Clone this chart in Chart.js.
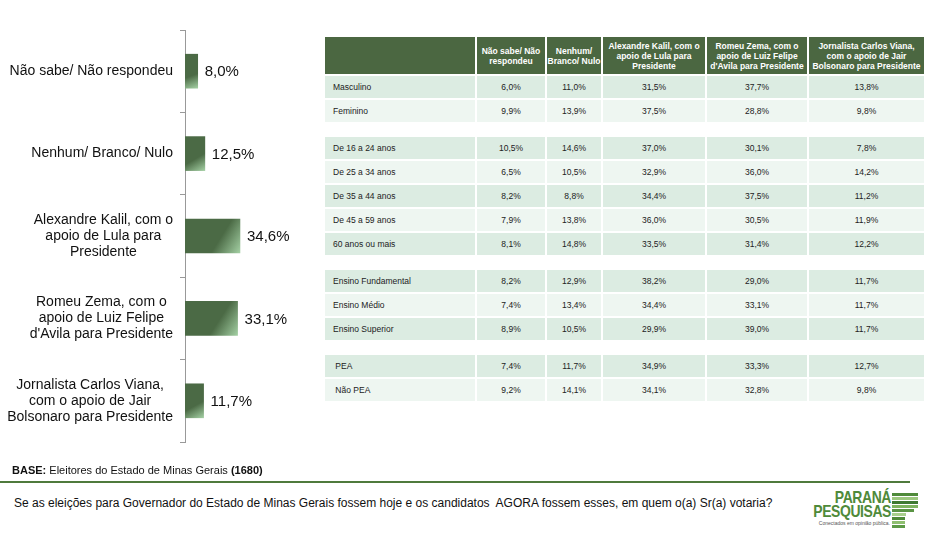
<!DOCTYPE html>
<html>
<head>
<meta charset="utf-8">
<script src="https://cdn.jsdelivr.net/npm/chart.js@4"></script>
<style>
  body { margin:0; width:952px; height:536px; background:#fff; font-family:"Liberation Sans", Arial, sans-serif; position:relative; overflow:hidden; }
  #chartBox { position:absolute; left:0; top:0; width:320px; height:470px; }
  table { position:absolute; left:323px; top:35px; width:603px; table-layout:fixed; border-collapse:separate; border-spacing:2px; font-size:8.5px; color:#222; }
  th, td { box-sizing:border-box; }
  th { background:#4b6741; color:#fff; font-weight:bold; height:37px; padding:0; line-height:10px; white-space:nowrap; overflow:hidden; }
  td { height:22px; padding:0; text-align:center; }
  td.lbl { text-align:left; padding-left:8px; }
  tr.dark td { background:#dcece2; }
  tr.light td { background:#eef6f1; }
  tr.gap td { height:11px; background:#fff; }
  #base { position:absolute; left:12px; top:464px; font-size:11px; color:#111; }
  #rule { position:absolute; left:0; top:481px; width:910px; height:2px; background:#4f7a3c; }
  #question { position:absolute; left:14px; top:496px; font-size:12px; color:#111; }
  .logo { position:absolute; font:bold 17px "Liberation Sans Narrow", "Liberation Sans", sans-serif; color:#4f8a3a; letter-spacing:-0.5px; transform:scaleX(0.82); transform-origin:right; text-align:right; line-height:15px; }
  #logo1 { left:791px; top:490px; width:100px; }
  #logo2 { left:771px; top:504px; width:120px; }
  #logo3 { position:absolute; left:800px; top:520px; font-size:5px; color:#555; width:90px; text-align:right; }
  .stripe { position:absolute; left:892px; height:3px; }
</style>
</head>
<body>
<div id="chartBox"><canvas id="barChart"></canvas></div>
<table id="tbl"></table>
<div id="base"><b>BASE:</b> Eleitores do Estado de Minas Gerais <b>(1680)</b></div>
<div id="rule"></div>
<div id="question">Se as eleições para Governador do Estado de Minas Gerais fossem hoje e os candidatos&nbsp; AGORA fossem esses, em quem o(a) Sr(a) votaria?</div>
<div id="logo1" class="logo">PARANÁ</div>
<div id="logo2" class="logo">PESQUISAS</div>
<div id="logo3">Conectados em opinião pública.</div>
<div id="stripes"></div>
<script>
const candidates = [
  ['Não sabe/ Não respondeu'],
  ['Nenhum/ Branco/ Nulo'],
  ['Alexandre Kalil, com o', 'apoio de Lula para', 'Presidente'],
  ['Romeu Zema, com o', 'apoio de Luiz Felipe', "d'Avila para Presidente"],
  ['Jornalista Carlos Viana,', 'com o apoio de Jair', 'Bolsonaro para Presidente']
];
const totals = [8.0, 12.5, 34.6, 33.1, 11.7];

const tableHeaders = [
  [''],
  ['Não sabe/ Não', 'respondeu'],
  ['Nenhum/', 'Branco/ Nulo'],
  ['Alexandre Kalil, com o', 'apoio de Lula para', 'Presidente'],
  ['Romeu Zema, com o', 'apoio de Luiz Felipe', "d'Avila para Presidente"],
  ['Jornalista Carlos Viana,', 'com o apoio de Jair', 'Bolsonaro para Presidente']
];
const groups = [
  ['Masculino', 'Feminino'],
  ['De 16 a 24 anos', 'De 25 a 34 anos', 'De 35 a 44 anos', 'De 45 a 59 anos', '60 anos ou mais'],
  ['Ensino Fundamental', 'Ensino Médio', 'Ensino Superior'],
  [' PEA', ' Não PEA']
];
const rowValues = [
  [[6.0, 11.0, 31.5, 37.7, 13.8], [9.9, 13.9, 37.5, 28.8, 9.8]],
  [[10.5, 14.6, 37.0, 30.1, 7.8], [6.5, 10.5, 32.9, 36.0, 14.2], [8.2, 8.8, 34.4, 37.5, 11.2],
   [7.9, 13.8, 36.0, 30.5, 11.9], [8.1, 14.8, 33.5, 31.4, 12.2]],
  [[8.2, 12.9, 38.2, 29.0, 11.7], [7.4, 13.4, 34.4, 33.1, 11.7], [8.9, 10.5, 29.9, 39.0, 11.7]],
  [[7.4, 11.7, 34.9, 33.3, 12.7], [9.2, 14.1, 34.1, 32.8, 9.8]]
];
const colWidths = [150, 68, 54, 102, 100, 115];

const pct = v => v.toFixed(1).replace('.', ',') + '%';

// table
const tbl = document.getElementById('tbl');
let html = '<tr>' + tableHeaders.map((h, i) => '<th style="width:' + colWidths[i] + 'px">' + h.join('<br>') + '</th>').join('') + '</tr>';
groups.forEach((g, gi) => {
  if (gi > 0) html += '<tr class="gap"><td colspan="6"></td></tr>';
  g.forEach((lbl, ri) => {
    html += '<tr class="' + (ri % 2 === 0 ? 'dark' : 'light') + '"><td class="lbl">' + lbl.replace(/^ /, '&nbsp;') + '</td>' +
      rowValues[gi][ri].map(v => '<td>' + pct(v) + '</td>').join('') + '</tr>';
  });
});
tbl.innerHTML = html;

// logo stripes
const stripeColors = ['#4f8a3a', '#9cc77e', '#3f7a32', '#7fb45f', '#5a9444', '#a8cf8c', '#4f8a3a', '#8fbf70', '#5d9a46'];
const stripeWidths = [26, 26, 26, 26, 22, 14, 13, 13, 13];
stripeColors.forEach((c, i) => {
  const d = document.createElement('div');
  d.className = 'stripe';
  d.style.top = (493 + i * 4) + 'px';
  d.style.width = stripeWidths[i] + 'px';
  d.style.background = c;
  document.getElementById('stripes').appendChild(d);
});

// bar chart
const labelPlugin = {
  id: 'labels',
  afterDraw(chart) {
    const { ctx, scales } = chart;
    ctx.save();
    ctx.fillStyle = '#111';
    ctx.textBaseline = 'middle';
    candidates.forEach((lines, i) => {
      const yc = scales.y.getPixelForValue(i);
      ctx.font = '14px "Liberation Sans", Arial, sans-serif';
      const w = Math.max(...lines.map(l => ctx.measureText(l).width));
      const cx = 173 - w / 2;
      ctx.textAlign = 'center';
      lines.forEach((l, k) => {
        ctx.fillText(l, cx, yc + (k - (lines.length - 1) / 2) * 16);
      });
      ctx.font = '15px "Liberation Sans", Arial, sans-serif';
      ctx.textAlign = 'left';
      ctx.fillText(pct(totals[i]), scales.x.getPixelForValue(totals[i]) + 7, yc + 1);
    });
    ctx.restore();
  }
};

new Chart(document.getElementById('barChart'), {
  type: 'bar',
  data: {
    labels: candidates,
    datasets: [{
      data: totals,
      barThickness: 34,
      borderWidth: 0,
      backgroundColor: (c) => {
        const chart = c.chart;
        if (!chart.chartArea || !chart.scales.x) return '#4b6a45';
        const x0 = chart.scales.x.getPixelForValue(0);
        const x1 = chart.scales.x.getPixelForValue(totals[c.dataIndex]);
        const yc = chart.scales.y.getPixelForValue(c.dataIndex);
        const g = chart.ctx.createLinearGradient(x0, yc - 17, x1, yc + 17);
        g.addColorStop(0, '#4b6a45');
        g.addColorStop(0.62, '#4b6a45');
        g.addColorStop(1, '#a3cfa3');
        return g;
      }
    }]
  },
  options: {
    indexAxis: 'y',
    animation: false,
    responsive: true,
    maintainAspectRatio: false,
    layout: { padding: { top: 30, bottom: 28, left: 0, right: 0 } },
    plugins: { legend: { display: false }, tooltip: { enabled: false } },
    scales: {
      x: { display: false, min: 0, max: 85 },
      y: {
        offset: true,
        afterFit: (s) => { s.width = 185; },
        ticks: { display: false },
        grid: { offset: true, drawOnChartArea: false, tickLength: 5, color: '#999' },
        border: { color: '#999', width: 1 }
      }
    }
  },
  plugins: [labelPlugin]
});
</script>
</body>
</html>
